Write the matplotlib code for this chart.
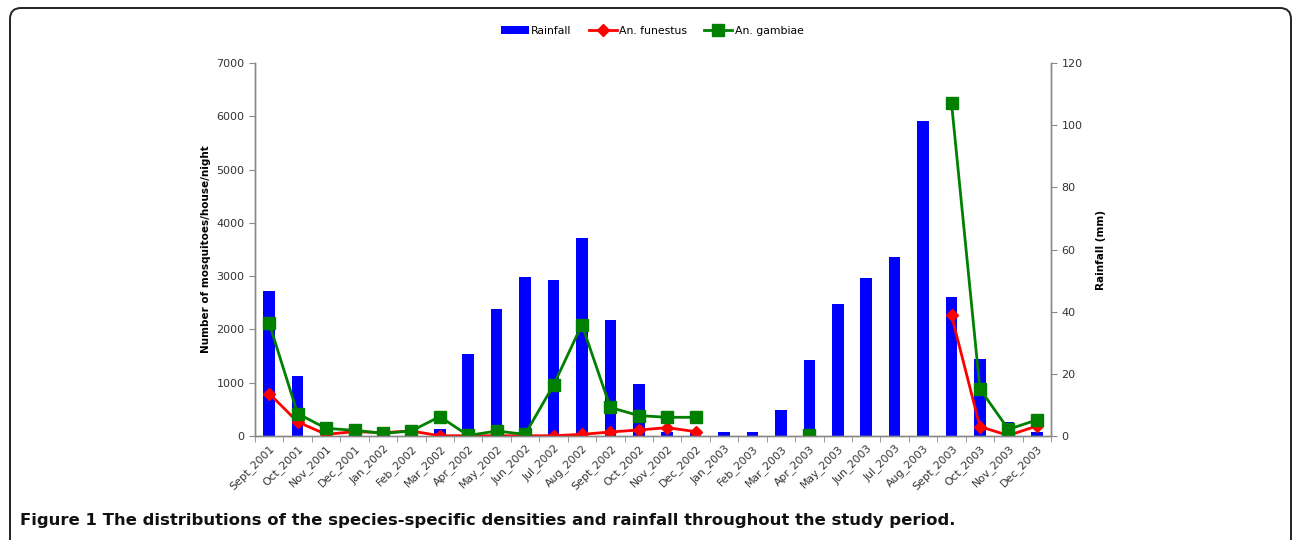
import numpy as np
import matplotlib
matplotlib.use("Agg")
import matplotlib.pyplot as plt
from matplotlib.patches import FancyBboxPatch
from matplotlib.transforms import IdentityTransform

months = ["Sept_2001", "Oct_2001", "Nov_2001", "Dec_2001", "Jan_2002", "Feb_2002",
          "Mar_2002", "Apr_2002", "May_2002", "Jun_2002", "Jul_2002", "Aug_2002",
          "Sept_2002", "Oct_2002", "Nov_2002", "Dec_2002", "Jan_2003", "Feb_2003",
          "Mar_2003", "Apr_2003", "May_2003", "Jun_2003", "Jul_2003", "Aug_2003",
          "Sept_2003", "Oct_2003", "Nov_2003", "Dec_2003"]

# rainfall (mm), right axis
rainfall = [46.8, 19.4, 0, 0, 0, 0,
            2.2, 26.4, 40.7, 51.1, 50.3, 63.8,
            37.4, 16.7, 1.4, 1.3, 1.2, 1.2,
            8.4, 24.4, 42.6, 50.9, 57.5, 101.5,
            44.7, 24.7, 4.6, 1.2]

# mosquitoes/house/night, left axis
nan = np.nan
funestus = [797, 264, 31, 82, 63, 94,
            5, 5, 5, 5, 5, 31,
            75, 113, 157, 82, nan, nan,
            nan, nan, nan, nan, nan, nan,
            2264, 176, 10, 188]
gambiae = [2115, 420, 144, 107, 50, 94,
           364, 10, 94, 31, 954, 2090,
           535, 383, 351, 351, nan, nan,
           nan, 20, nan, nan, nan, nan,
           6250, 884, 125, 301]

W, H = 1292, 540
fig = plt.figure(figsize=(W / 100, H / 100), dpi=100)

# rounded frame round the figure (pixel coords, origin bottom-left)
frame = FancyBboxPatch((10, -30), 1281, 562,
                       boxstyle="round,pad=0,rounding_size=11",
                       transform=IdentityTransform(), fill=False,
                       edgecolor="#222222", linewidth=1.4)
fig.patches.append(frame)

ax = fig.add_axes([255 / W, 1 - 436 / H, 796 / W, 373 / H])
ax2 = ax.twinx()

x = np.arange(len(months))
grey = "#888888"
tc = "#333333"

bars = ax2.bar(x, rainfall, width=0.41, color="#0000ff", label="Rainfall", zorder=1)
ax2.set_ylim(0, 120)
ax2.set_yticks(np.arange(0, 121, 20))

# lines above the bars
ax.set_zorder(ax2.get_zorder() + 1)
ax.patch.set_visible(False)
l1, = ax.plot(x, funestus, color="#ff0000", marker="D", markersize=6, linewidth=2,
              label="An. funestus")
l2, = ax.plot(x, gambiae, color="#008000", marker="s", markersize=8.5, linewidth=2,
              label="An. gambiae")
ax.set_ylim(0, 7000)
ax.set_yticks(np.arange(0, 7001, 1000))
ax.set_xlim(-0.5, len(months) - 0.5)
ax.set_xticks(x)
ax.set_xticklabels(months, rotation=45, ha="right", rotation_mode="anchor",
                   fontsize=7.8, color=tc)
ax.set_xticks(np.arange(-0.5, len(months)), minor=True)
ax.tick_params(axis="x", which="major", length=0, pad=5)
ax.tick_params(axis="x", which="minor", length=4, color=grey, direction="out")
ax.tick_params(axis="y", labelsize=8, labelcolor=tc, length=4, color=grey)
ax2.tick_params(axis="y", labelsize=8, labelcolor=tc, length=4, color=grey)

for a in (ax, ax2):
    a.spines["top"].set_visible(False)
    for s in ("left", "right", "bottom"):
        a.spines[s].set_color(grey)
        a.spines[s].set_linewidth(1)

ax.set_ylabel("Number of mosquitoes/house/night", fontsize=7.5, fontweight="bold",
              labelpad=4)
ax2.set_ylabel("Rainfall (mm)", fontsize=7.5, fontweight="bold", labelpad=10)

fig.legend([bars, l1, l2], ["Rainfall", "An. funestus", "An. gambiae"],
           loc="center", bbox_to_anchor=(652 / W, 1 - 31 / H), ncol=3, frameon=False,
           fontsize=7.8, handlelength=2.6, columnspacing=1.6, handletextpad=0.2)

fig.text(20 / W, 1 - 521 / H,
         "Figure 1 The distributions of the species-specific densities and rainfall throughout the study period.",
         fontsize=11.85, fontweight="bold", family="DejaVu Sans", va="center", color="#111111")

fig.savefig("out.png", dpi=100)
